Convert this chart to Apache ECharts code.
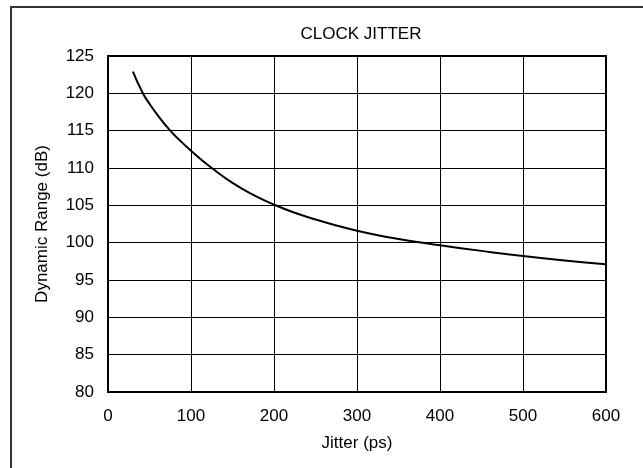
<!DOCTYPE html>
<html>
<head>
<meta charset="utf-8">
<script src="https://cdn.jsdelivr.net/npm/echarts@6/dist/echarts.min.js"></script>
<style>
  html, body { margin: 0; padding: 0; background: #fff; }
  #chart { width: 643px; height: 468px; }
</style>
</head>
<body>
<div id="chart"></div>
<script>
// Dynamic range versus clock jitter
const jitterPs = [30, 42, 50, 60, 75, 87.5, 100, 112.5, 125, 150, 175, 200, 225, 250, 275, 300, 325, 350, 375, 400, 450, 500, 550, 600];
const dynamicRangeDb = [122.9, 120.0, 118.6, 117.05, 115.0, 113.6, 112.3, 111.1, 110.0, 108.0, 106.4, 105.1, 104.0, 103.1, 102.3, 101.6, 101.0, 100.5, 100.05, 99.65, 98.9, 98.2, 97.6, 97.1];

const FONT = 'Liberation Sans, Arial, sans-serif';
const FS = 17;

const chart = echarts.init(document.getElementById('chart'), null, { renderer: 'canvas' });
chart.setOption({
  animation: false,
  backgroundColor: '#fff',
  title: {
    text: 'CLOCK JITTER',
    left: 356, top: 21,
    textAlign: 'center',
    textStyle: { fontFamily: FONT, fontSize: FS, fontWeight: 'normal', color: '#000' }
  },
  grid: {
    left: 108, top: 56, right: 37, bottom: 76,
    show: true, borderColor: '#000', borderWidth: 2, backgroundColor: 'transparent'
  },
  xAxis: {
    type: 'value', min: 0, max: 600, interval: 100,
    name: 'Jitter (ps)', nameLocation: 'middle', nameGap: 43,
    nameTextStyle: { fontFamily: FONT, fontSize: FS, color: '#000' },
    axisLine: { show: false },
    axisTick: { show: false },
    axisLabel: { fontFamily: FONT, fontSize: FS, color: '#000', margin: 16 },
    splitLine: { show: true, lineStyle: { color: '#000', width: 1 } }
  },
  yAxis: {
    type: 'value', min: 80, max: 125, interval: 5,
    name: 'Dynamic Range (dB)', nameLocation: 'middle', nameGap: 57,
    nameTextStyle: { fontFamily: FONT, fontSize: FS, color: '#000' },
    axisLine: { show: false },
    axisTick: { show: false },
    axisLabel: { fontFamily: FONT, fontSize: FS, color: '#000', margin: 14 },
    splitLine: { show: true, lineStyle: { color: '#000', width: 1 } }
  },
  graphic: [{
    type: 'rect', silent: true,
    shape: { x: 11, y: 7, width: 660, height: 500 },
    style: { fill: 'none', stroke: '#333', lineWidth: 2 }
  }],
  series: [{
    type: 'line',
    data: jitterPs.map((x, i) => [x, dynamicRangeDb[i]]),
    smooth: true,
    showSymbol: false,
    lineStyle: { color: '#000', width: 2 }
  }]
});
</script>
</body>
</html>
